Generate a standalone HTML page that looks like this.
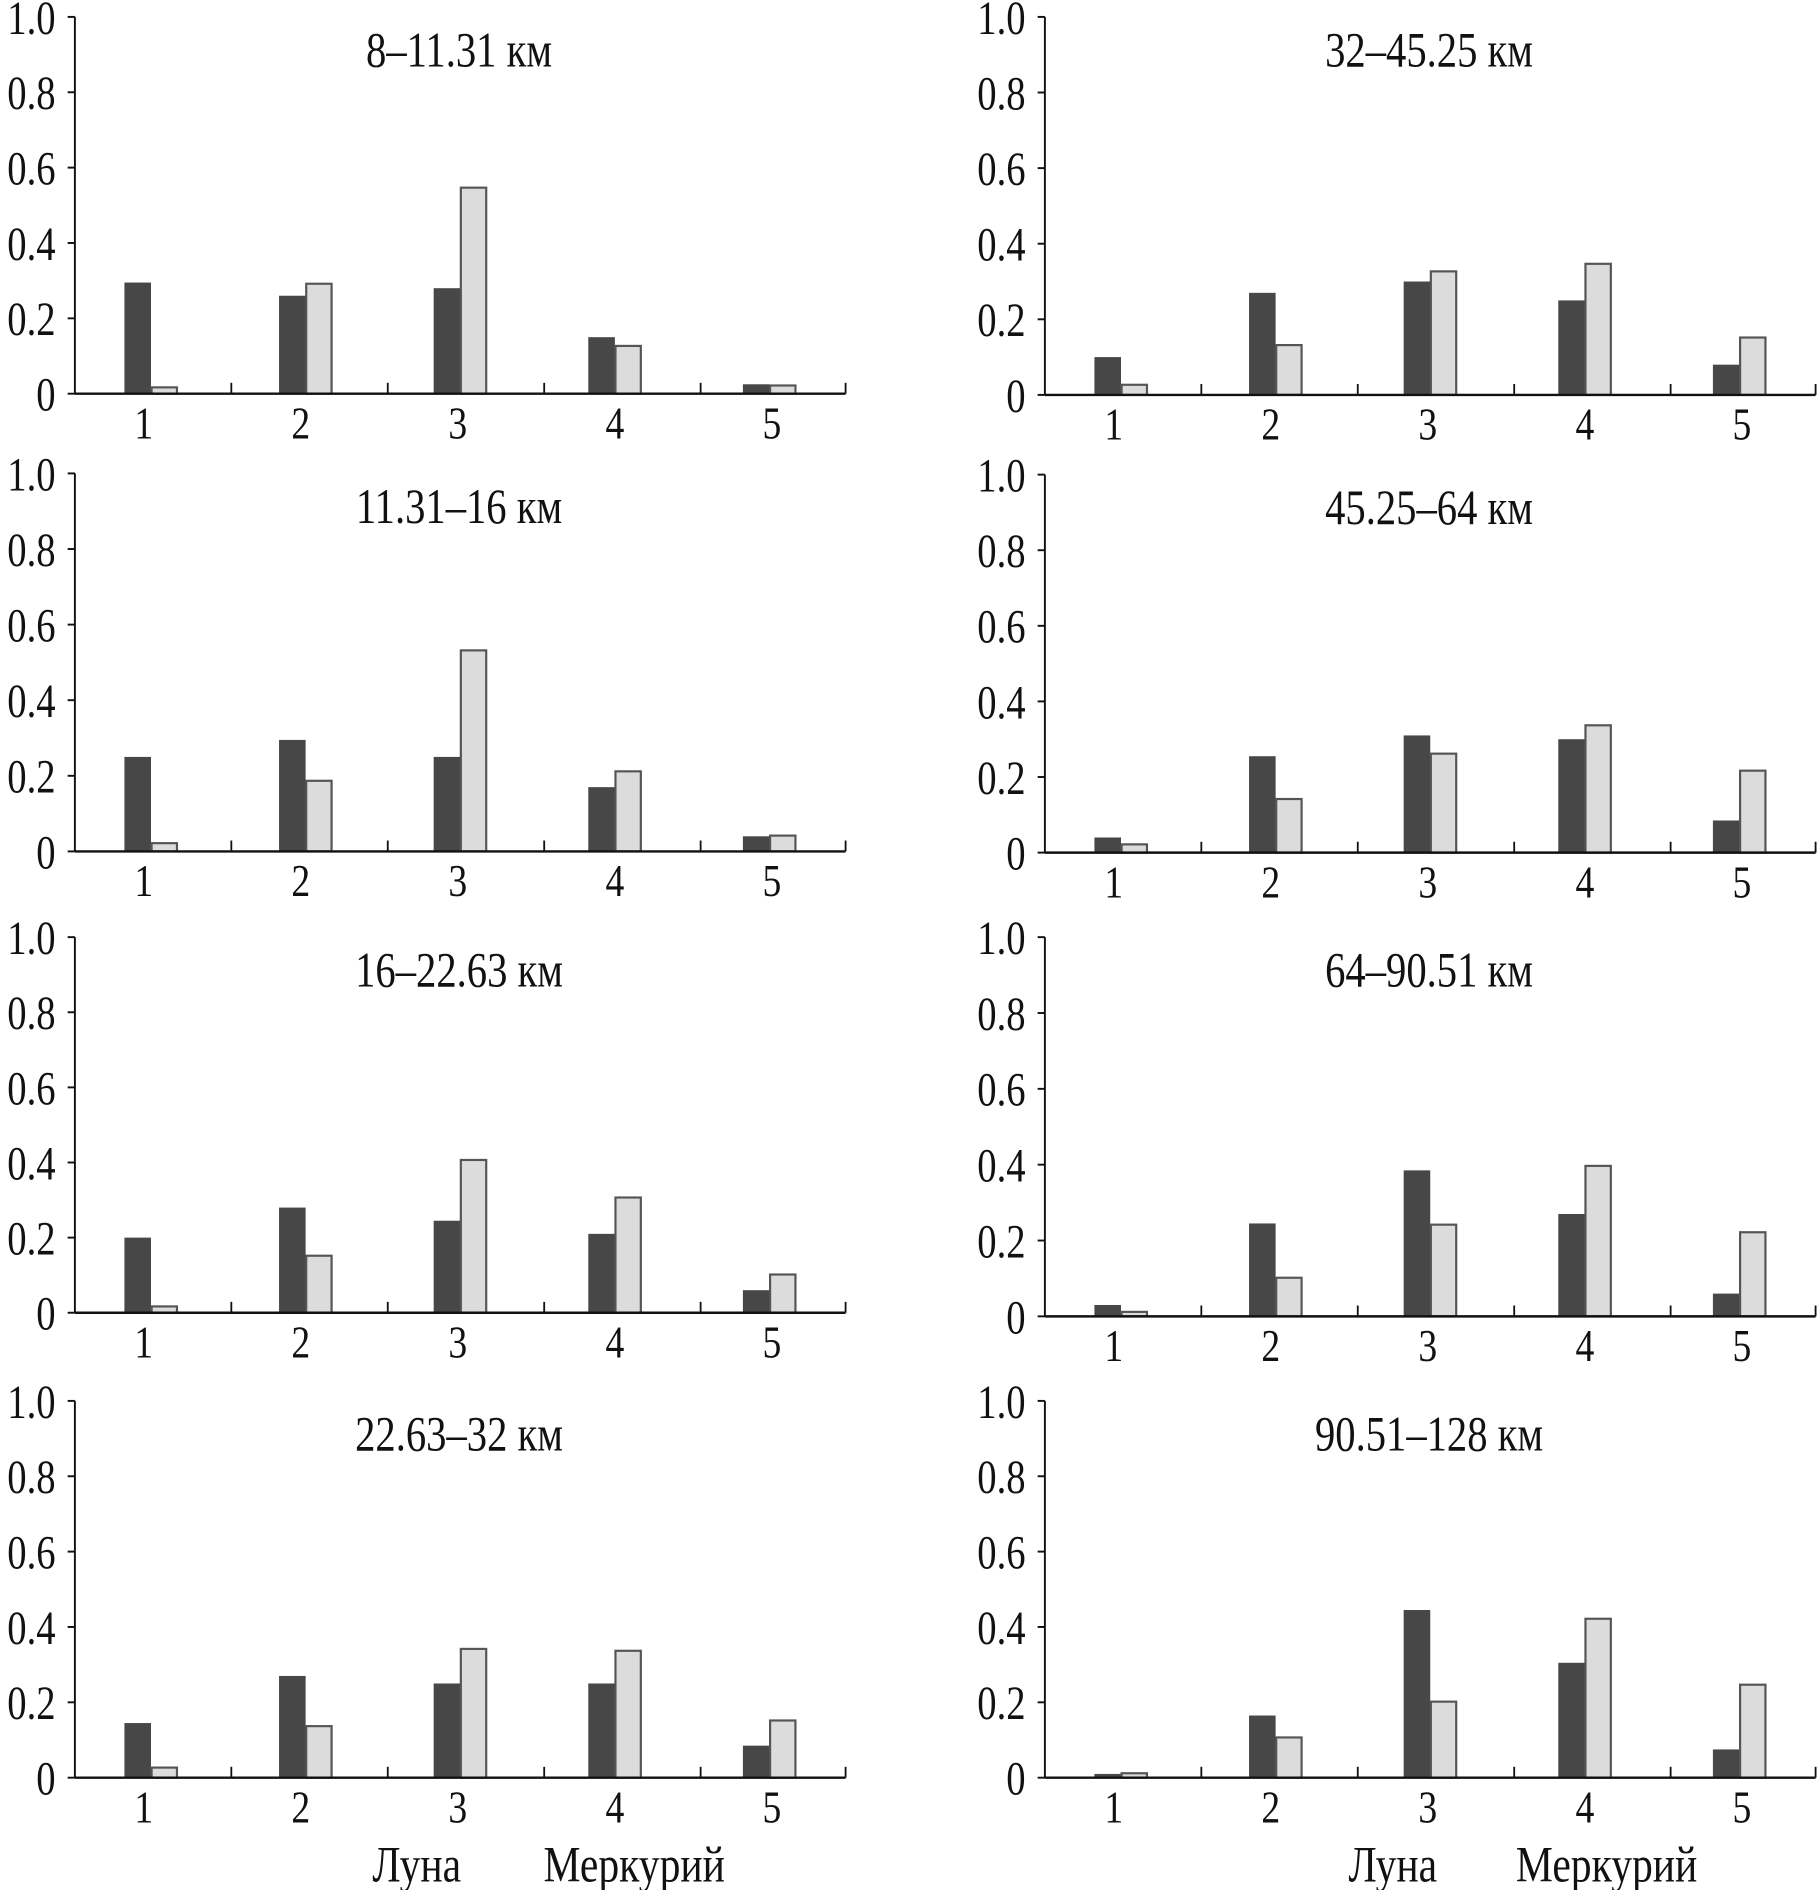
<!DOCTYPE html>
<html><head><meta charset="utf-8"><style>
html,body{margin:0;padding:0;background:#fff;}
svg{display:block;}
text{font-family:"Liberation Serif",serif;fill:#111;}
</style></head><body>
<svg id="chart" width="1818" height="1890" viewBox="0 0 1505 1565" preserveAspectRatio="none" xmlns="http://www.w3.org/2000/svg"></svg>
<script>
const categories = ['1','2','3','4','5'];
const titles = ['8–11.31 км','11.31–16 км','16–22.63 км','22.63–32 км','32–45.25 км','45.25–64 км','64–90.51 км','90.51–128 км'];
const yTicks = [0,0.2,0.4,0.6,0.8,1.0];
const yTickLabels = ['0','0.2','0.4','0.6','0.8','1.0'];
const moonP1 = [0.295,0.26,0.28,0.15,0.025];
const mercP1 = [0.02,0.295,0.55,0.13,0.025];
const moonP2 = [0.25,0.295,0.25,0.17,0.04];
const mercP2 = [0.025,0.19,0.535,0.215,0.045];
const moonP3 = [0.2,0.28,0.245,0.21,0.06];
const mercP3 = [0.02,0.155,0.41,0.31,0.105];
const moonP4 = [0.145,0.27,0.25,0.25,0.085];
const mercP4 = [0.03,0.14,0.345,0.34,0.155];
const moonP5 = [0.1,0.27,0.3,0.25,0.08];
const mercP5 = [0.03,0.135,0.33,0.35,0.155];
const moonP6 = [0.04,0.255,0.31,0.3,0.085];
const mercP6 = [0.025,0.145,0.265,0.34,0.22];
const moonP7 = [0.03,0.245,0.385,0.27,0.06];
const mercP7 = [0.015,0.105,0.245,0.4,0.225];
const moonP8 = [0.01,0.165,0.445,0.305,0.075];
const mercP8 = [0.015,0.11,0.205,0.425,0.25];
const moonAll = [moonP1,moonP2,moonP3,moonP4,moonP5,moonP6,moonP7,moonP8];
const mercAll = [mercP1,mercP2,mercP3,mercP4,mercP5,mercP6,mercP7,mercP8];

const NS='http://www.w3.org/2000/svg';
const svg=document.getElementById('chart');
function mk(tag,attrs,parent){const e=document.createElementNS(NS,tag);for(const k in attrs)e.setAttribute(k,attrs[k]);(parent||svg).appendChild(e);return e;}
function txt(s,x,y,size,parent,anchor){const t=mk('text',{transform:`translate(${x},${y}) scale(0.82,1)`,'font-size':size,'text-anchor':anchor||'middle'},parent);t.textContent=s;return t;}

const layout=[{ax:62,zero:326,top:14},{ax:62,zero:705,top:392},{ax:62,zero:1087,top:776},{ax:62,zero:1472,top:1160},
{ax:865,zero:327,top:14},{ax:865,zero:706,top:393},{ax:865,zero:1090,top:776},{ax:865,zero:1472,top:1160}];
const axisW=638, groupW=129.5, barStep=128, labelStep=130, barW=22;

layout.forEach((L,p)=>{
  const g=mk('g',{});
  
  
  const yScale=v=>L.zero-(L.zero-L.top)*v;
  const xGroup=i=>L.ax+62+barStep*i;
  categories.forEach((c,i)=>{
    const vm=moonAll[p][i], vr=mercAll[p][i];
    const b1=mk('rect',{x:xGroup(i)-barW+1,y:yScale(vm),width:barW,height:L.zero-yScale(vm),fill:'#474747'},g);
    
    
    const b2=mk('rect',{x:xGroup(i)+1.5,y:yScale(vr)+1,width:barW-1,height:Math.max(0,L.zero-yScale(vr)-1),fill:'#dcdcdc',stroke:'#555','stroke-width':1.8},g);
    
    
    const xl=txt(c,L.ax+57+labelStep*i,L.zero+37,38,g);
    
    
    if(i<4){mk('line',{x1:L.ax+groupW*(i+1),x2:L.ax+groupW*(i+1),y1:L.zero,y2:L.zero-9,stroke:'#111','stroke-width':1.5},g);}
  });
  mk('line',{x1:L.ax+axisW,x2:L.ax+axisW,y1:L.zero,y2:L.zero-9,stroke:'#111','stroke-width':1.5},g);
  const ya=mk('line',{x1:L.ax,x2:L.ax,y1:L.top,y2:L.zero,stroke:'#111','stroke-width':1.6},g);
  
  
  const xa=mk('line',{x1:L.ax,x2:L.ax+axisW,y1:L.zero,y2:L.zero,stroke:'#111','stroke-width':2},g);
  
  
  yTicks.forEach((v,k)=>{
    mk('line',{x1:L.ax-6,x2:L.ax,y1:yScale(v),y2:yScale(v),stroke:'#111','stroke-width':1.6},g);
    const t=txt(yTickLabels[k],L.ax-16,yScale(v)+14,39,g,'end');
    
    
  });
  const tt=txt(titles[p],L.ax+318,L.top+41,41,g);
  
  
});
[[345,1153],[525,1330]].forEach((xs,k)=>{
  xs.forEach(x=>{
    const t=txt(k===0?'Луна':'Меркурий',x,1558,42);
    
    
  });
});
</script>
</body></html>
